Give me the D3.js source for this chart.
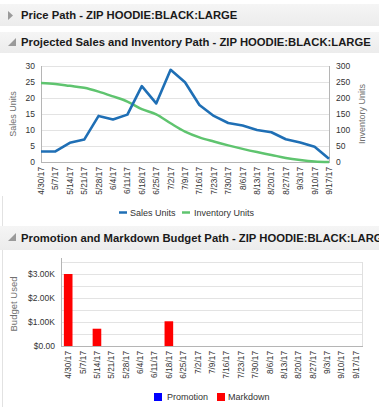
<!DOCTYPE html>
<html><head><meta charset="utf-8">
<script src="https://cdn.jsdelivr.net/npm/d3@7"></script>
<style>
html,body{margin:0;padding:0;background:#fff;overflow:hidden;}
svg{display:block;font-family:"Liberation Sans",Arial,sans-serif;}
</style></head>
<body>
<svg id="c" width="379" height="407"></svg>
<script>
const dates = ["4/30/17","5/7/17","5/14/17","5/21/17","5/28/17","6/4/17","6/11/17","6/18/17","6/25/17","7/2/17","7/9/17","7/16/17","7/23/17","7/30/17","8/6/17","8/13/17","8/20/17","8/27/17","9/3/17","9/10/17","9/17/17"];
const salesUnits = [3.3,3.3,6,7,14.4,13.3,14.8,23.7,18.3,28.8,24.9,17.8,14.4,12.2,11.4,10,9.3,7.1,6.1,4.8,1.0];
const inventoryUnits = [247,244,238,232,220,205,189,165,149,121,95,77,64,52,41,31,22,12.5,6,1.5,0];
const promotion = [0,0,0,0,0,0,0,0,0,0,0,0,0,0,0,0,0,0,0,0,0];
const markdown = [3000,0,720,0,0,0,0,1030,0,0,0,0,0,0,0,0,0,0,0,0,0];
const salesTicks = [0,5,10,15,20,25,30];
const invTicks = [0,50,100,150,200,250,300];
const budgetTicks = [0,1000,2000,3000];
const budgetGrid = [0,500,1000,1500,2000,2500,3000,3500];
const titles = ["Price Path - ZIP HOODIE:BLACK:LARGE",
  "Projected Sales and Inventory Path - ZIP HOODIE:BLACK:LARGE",
  "Promotion and Markdown Budget Path - ZIP HOODIE:BLACK:LARGE"];

const svg = d3.select("#c");
const blue = "#1f6fb5", green = "#5fc46f";

// left panel border line
svg.append("line").attr("x1",2.5).attr("x2",2.5).attr("y1",196).attr("y2",407).attr("stroke","#e2e2e2");

// headers
const headerY = [[4,22],[32,21],[226,24]];
const grad = svg.append("defs").append("linearGradient").attr("id","hg").attr("x1",0).attr("x2",0).attr("y1",0).attr("y2",1);
grad.append("stop").attr("offset","0%").attr("stop-color","#f5f5f5");
grad.append("stop").attr("offset","100%").attr("stop-color","#ececec");
headerY.forEach(([y,h],i)=>{
  svg.append("rect").attr("x",0).attr("y",y).attr("width",379).attr("height",h).attr("fill","url(#hg)");
});
// triangles
svg.append("path").attr("d","M8,11 L13,15.5 L8,20 Z").attr("fill","#9a9a9a");
svg.append("path").attr("d","M16,38 L16,46 L8,46 Z").attr("fill","#9a9a9a");
svg.append("path").attr("d","M16,233 L16,241 L8,241 Z").attr("fill","#9a9a9a");

const tt = svg.selectAll("text.title").data(titles).join("text").attr("class","title")
  .attr("x",21).attr("y",(d,i)=>headerY[i][0]+headerY[i][1]/2+3.8)
  .attr("font-weight","bold").attr("font-size",11).attr("fill","#1a1a1a").text(d=>d);
const w2 = tt.nodes()[1].getComputedTextLength();
const fs = 11*350/w2;
tt.attr("font-size",fs);

// ---------- top chart ----------
const x1 = d3.scalePoint().domain(dates).range([41,329]);
const yS = d3.scaleLinear().domain([0,30]).range([162,66]);
const yI = d3.scaleLinear().domain([0,300]).range([162,66]);
const g1 = svg.append("g");
g1.selectAll("line.grid").data(salesTicks).join("line").attr("class","grid")
  .attr("x1",41).attr("x2",329).attr("y1",d=>yS(d)+0.5).attr("y2",d=>yS(d)+0.5)
  .attr("stroke","#e3e3e3");
g1.append("line").attr("x1",41.5).attr("x2",41.5).attr("y1",66).attr("y2",162).attr("stroke","#b5b5b5");
g1.append("line").attr("x1",329.5).attr("x2",329.5).attr("y1",66).attr("y2",162).attr("stroke","#b5b5b5");
g1.append("line").attr("x1",41).attr("x2",330).attr("y1",162.5).attr("y2",162.5).attr("stroke","#b5b5b5");
g1.selectAll("text.yl").data(salesTicks).join("text").attr("class","yl")
  .attr("x",35).attr("y",d=>yS(d)+3).attr("text-anchor","end").attr("font-size",8.5).attr("fill","#333").text(d=>d);
g1.selectAll("text.yr").data(invTicks).join("text").attr("class","yr")
  .attr("x",336).attr("y",d=>yI(d)+3).attr("text-anchor","start").attr("font-size",8.5).attr("fill","#333").text(d=>d);
g1.selectAll("text.xl").data(dates).join("text").attr("class","xl")
  .attr("transform",d=>`translate(${x1(d)+3},167) rotate(-90)`).attr("text-anchor","end")
  .attr("font-size",8.3).attr("fill","#333").text(d=>d);
g1.append("text").attr("transform","translate(16,114) rotate(-90)").attr("text-anchor","middle")
  .attr("font-size",9).attr("fill","#707070").text("Sales Units");
g1.append("text").attr("transform","translate(365,114) rotate(-90)").attr("text-anchor","middle")
  .attr("font-size",9).attr("fill","#707070").text("Inventory Units");
const lineS = d3.line().x((d,i)=>x1(dates[i])).y(d=>yS(d));
const lineI = d3.line().x((d,i)=>x1(dates[i])).y(d=>yI(d)).curve(d3.curveMonotoneX);
g1.append("path").attr("d",lineI(inventoryUnits)).attr("fill","none").attr("stroke",green).attr("stroke-width",2.5);
g1.append("path").attr("d",lineS(salesUnits)).attr("fill","none").attr("stroke",blue).attr("stroke-width",2.6).attr("stroke-linejoin","round");
// legend
g1.append("line").attr("x1",119).attr("x2",127).attr("y1",212.5).attr("y2",212.5).attr("stroke",blue).attr("stroke-width",2.5);
g1.append("text").attr("x",130).attr("y",215.5).attr("font-size",9).attr("fill","#333").text("Sales Units");
g1.append("line").attr("x1",182).attr("x2",190).attr("y1",212.5).attr("y2",212.5).attr("stroke",green).attr("stroke-width",2.5);
g1.append("text").attr("x",194).attr("y",215.5).attr("font-size",9).attr("fill","#333").text("Inventory Units");

// ---------- bottom chart ----------
const x2 = d3.scaleBand().domain(dates).range([61,363]).paddingInner(0.4).paddingOuter(0.2);
const yB = d3.scaleLinear().domain([0,3500]).range([346,262]);
const g2 = svg.append("g");
g2.selectAll("line.grid").data(budgetGrid).join("line").attr("class","grid")
  .attr("x1",61).attr("x2",362).attr("y1",d=>Math.round(yB(d))+0.5).attr("y2",d=>Math.round(yB(d))+0.5)
  .attr("stroke","#e3e3e3");
g2.append("line").attr("x1",362.5).attr("x2",362.5).attr("y1",262).attr("y2",346).attr("stroke","#e0e0e0");
g2.append("line").attr("x1",61.5).attr("x2",61.5).attr("y1",258).attr("y2",346).attr("stroke","#b5b5b5");
g2.append("line").attr("x1",61).attr("x2",363).attr("y1",346.5).attr("y2",346.5).attr("stroke","#b5b5b5");
const fmt = d=> d===0 ? "$0.00" : "$"+(d/1000).toFixed(2)+"K";
g2.selectAll("text.yl").data(budgetTicks).join("text").attr("class","yl")
  .attr("x",55).attr("y",d=>yB(d)+3).attr("text-anchor","end").attr("font-size",8.5).attr("fill","#333").text(fmt);
g2.selectAll("rect.pr").data(promotion).join("rect").attr("class","pr")
  .attr("x",(d,i)=>x2(dates[i])).attr("width",x2.bandwidth())
  .attr("y",d=>yB(d)).attr("height",d=>yB(0)-yB(d)).attr("fill","#0000ff");
g2.selectAll("rect.md").data(markdown).join("rect").attr("class","md")
  .attr("x",(d,i)=>x2(dates[i])).attr("width",x2.bandwidth())
  .attr("y",(d,i)=>yB(d+promotion[i])).attr("height",(d,i)=>yB(promotion[i])-yB(d+promotion[i])).attr("fill","#ff0000");
g2.selectAll("text.xl").data(dates).join("text").attr("class","xl")
  .attr("transform",d=>`translate(${x2(d)+x2.bandwidth()/2+3},351) rotate(-90)`).attr("text-anchor","end")
  .attr("font-size",8.3).attr("fill","#333").text(d=>d);
g2.append("text").attr("transform","translate(17,304) rotate(-90)").attr("text-anchor","middle")
  .attr("font-size",9.5).attr("fill","#707070").text("Budget Used");
g2.append("rect").attr("x",154).attr("y",393).attr("width",8).attr("height",8).attr("fill","#0000ff");
g2.append("text").attr("x",167).attr("y",400).attr("font-size",9).attr("fill","#333").text("Promotion");
g2.append("rect").attr("x",217).attr("y",393).attr("width",8).attr("height",8).attr("fill","#ff0000");
g2.append("text").attr("x",228).attr("y",400).attr("font-size",9).attr("fill","#333").text("Markdown");
</script>
</body></html>
